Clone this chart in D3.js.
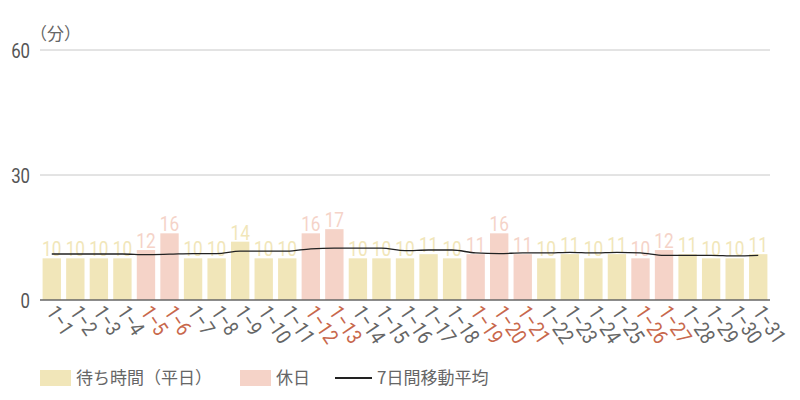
<!DOCTYPE html>
<html>
<head>
<meta charset="utf-8">
<script src="https://cdn.jsdelivr.net/npm/d3@7"></script>
<style>
  body { margin: 0; background: #fff; }
  svg { display: block; }
  .num { font-family: "Roboto", sans-serif; }
  .jp { font-family: "Noto Sans CJK JP", sans-serif; }
</style>
</head>
<body>
<div id="svg-container"></div>
<script>
// data
const days = ["1-1","1-2","1-3","1-4","1-5","1-6","1-7","1-8","1-9","1-10","1-11","1-12","1-13","1-14","1-15","1-16",
  "1-17","1-18","1-19","1-20","1-21","1-22","1-23","1-24","1-25","1-26","1-27","1-28","1-29","1-30","1-31"];
const waitTimes = [10,10,10,10,12,16,10,10,14,10,10,16,17,10,10,10,11,10,11,16,11,10,11,10,11,10,12,11,10,10,11];
const holidays = ["1-5","1-6","1-12","1-13","1-19","1-20","1-21","1-26","1-27"];
const movingAvg = [11.04,11.04,11.04,11.04,10.9,11.0,11.14,11.14,11.71,11.71,11.71,12.29,12.43,12.43,12.43,11.86,
  12.0,12.0,11.29,11.14,11.29,11.29,11.43,11.29,11.43,11.29,10.71,10.71,10.71,10.57,10.71];
const yTicks = [0, 30, 60];
const legendItems = ["待ち時間（平日）", "休日", "7日間移動平均"];

const width = 800, height = 400;
const margin = { top: 50, right: 30, bottom: 100, left: 40 };

const colWeekday = "#f1e6b9";
const colHoliday = "#f5d3c8";
const colHolidayText = "#c8684c";
const colText = "#666";

const svg = d3.select("#svg-container").append("svg")
  .attr("width", width).attr("height", height);

const data = days.map((d, i) => ({ day: d, v: waitTimes[i], avg: movingAvg[i], hol: holidays.includes(d) }));

// scale
const x = d3.scaleBand().domain(days).range([margin.left, width - margin.right]).paddingInner(0.22).paddingOuter(0.11);
const y = d3.scaleLinear().domain([0, 60]).range([height - margin.bottom, margin.top]);

// grid
svg.append("g")
  .selectAll("line")
  .data(yTicks.filter((t) => t > 0))
  .join("line")
  .attr("x1", margin.left).attr("x2", width - margin.right)
  .attr("y1", (d) => y(d)).attr("y2", (d) => y(d))
  .attr("stroke", "#c8c8c8").attr("stroke-width", 1);

// y labels (narrowed roboto)
svg.append("g")
  .selectAll("text")
  .data(yTicks)
  .join("text")
  .attr("class", "num")
  .attr("transform", (d) => `translate(${margin.left - 10}, ${y(d)}) scale(0.8, 1)`)
  .attr("dy", "0.36em")
  .attr("text-anchor", "end")
  .attr("font-size", 21)
  .attr("fill", "#555")
  .text((d) => d);

svg.append("text")
  .attr("class", "jp")
  .attr("x", 30)
  .attr("y", 40)
  .attr("font-size", 17)
  .attr("fill", colText)
  .text("（分）");

// bars
svg.append("g")
  .selectAll("rect")
  .data(data)
  .join("rect")
  .attr("x", (d) => x(d.day))
  .attr("width", x.bandwidth())
  .attr("y", (d) => y(d.v))
  .attr("height", (d) => y(0) - y(d.v))
  .attr("fill", (d) => (d.hol ? colHoliday : colWeekday));

// value labels
svg.append("g")
  .selectAll("text")
  .data(data)
  .join("text")
  .attr("class", "num")
  .attr("transform", (d) => `translate(${x(d.day) + x.bandwidth() / 2}, ${y(d.v) - 2}) scale(0.82, 1)`)
  .attr("text-anchor", "middle")
  .attr("font-size", 21)
  .attr("fill", (d) => (d.hol ? colHoliday : colWeekday))
  .text((d) => d.v);

// moving average
const line = d3.line()
  .x((d) => x(d.day) + x.bandwidth() / 2)
  .y((d) => y(d.avg))
  .curve(d3.curveMonotoneX);

svg.append("path")
  .datum(data)
  .attr("fill", "none")
  .attr("stroke", "#222")
  .attr("stroke-width", 1.3)
  .attr("d", line);

// x axis
svg.append("line")
  .attr("x1", margin.left).attr("x2", width - margin.right)
  .attr("y1", y(0)).attr("y2", y(0))
  .attr("stroke", "#666").attr("stroke-width", 1.5);

svg.append("g")
  .selectAll("text")
  .data(data)
  .join("text")
  .attr("class", "num")
  .attr("transform", (d) => `translate(${x(d.day) + x.bandwidth() / 2 - 6}, ${y(0) + 12}) rotate(56) scale(0.85, 1)`)
  .attr("text-anchor", "start")
  .attr("font-size", 21)
  .attr("fill", (d) => (d.hol ? colHolidayText : colText))
  .text((d) => d.day.replace("-", "−"));

// legend
const legend = svg.append("g").attr("transform", `translate(40, 378)`);
const lg = [
  { x: 0, type: "rect", color: colWeekday, label: legendItems[0] },
  { x: 200, type: "rect", color: colHoliday, label: legendItems[1] },
  { x: 295, type: "line", color: "#222", label: legendItems[2] },
];
lg.forEach((d) => {
  if (d.type === "rect") {
    legend.append("rect").attr("x", d.x).attr("y", -8).attr("width", 31).attr("height", 16).attr("fill", d.color);
  } else {
    legend.append("line").attr("x1", d.x).attr("x2", d.x + 37).attr("y1", 0).attr("y2", 0)
      .attr("stroke", d.color).attr("stroke-width", 2);
  }
  legend.append("text")
    .attr("class", "jp")
    .attr("x", d.x + (d.type === "rect" ? 36 : 42))
    .attr("y", 0)
    .attr("dy", "0.36em")
    .attr("font-size", 17)
    .attr("fill", colText)
    .text(d.label);
});
</script>
</body>
</html>
